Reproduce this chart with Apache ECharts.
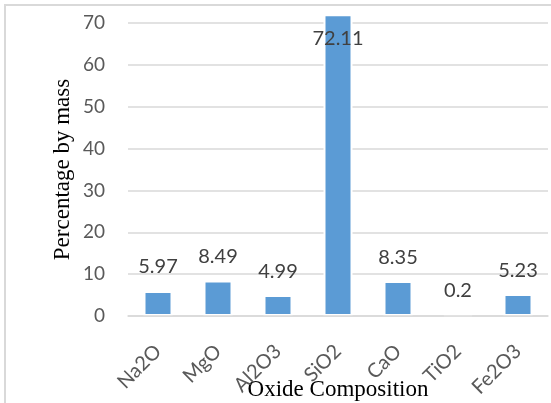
<!DOCTYPE html>
<html>
<head>
<meta charset="utf-8">
<script src="https://cdn.jsdelivr.net/npm/echarts@6/dist/echarts.min.js"></script>
<style>
  html, body { margin: 0; padding: 0; background: #fff; }
  #chart { width: 551px; height: 403px; }
</style>
</head>
<body>
<div id="chart"></div>
<script>
// Oxide composition of the sample, percentage by mass
const oxides = ['Na2O', 'MgO', 'Al2O3', 'SiO2', 'CaO', 'TiO2', 'Fe2O3'];
const massPercent = [5.97, 8.49, 4.99, 72.11, 8.35, 0.2, 5.23];
const yTicks = { min: 0, max: 70, interval: 10 };

const chart = echarts.init(document.getElementById('chart'), null, { renderer: 'canvas' });

const barData = massPercent.map(function (v) {
  const item = { value: v };
  // the tallest bar reaches past the top gridline, so its label sits inside
  if (v > yTicks.max) {
    item.label = { position: 'insideTop', distance: 14 };
  }
  return item;
});

chart.setOption({
  animation: false,
  backgroundColor: '#fff',
  grid: {
    left: 128, right: 3, top: 23, bottom: 87,
    containLabel: false, outerBoundsMode: 'none'
  },
  graphic: [{
    type: 'rect',
    shape: { x: 5, y: 5, width: 600, height: 450 },
    style: { fill: 'none', stroke: '#D9D9D9', lineWidth: 2 },
    silent: true, z: 100
  }],
  xAxis: {
    type: 'category',
    data: oxides,
    z: 3,
    name: 'Oxide Composition',
    nameLocation: 'middle',
    nameGap: 62,
    nameMoveOverlap: false,
    nameTextStyle: { fontFamily: 'Liberation Serif', fontSize: 23, color: '#000' },
    axisLine: { lineStyle: { color: '#D9D9D9', width: 1.5 } },
    axisTick: { length: 7, lineStyle: { color: '#D9D9D9', width: 1.5 } },
    axisLabel: {
      rotate: 45, interval: 0, margin: 32,
      fontFamily: 'Lato', fontSize: 20, color: '#595959'
    }
  },
  yAxis: {
    type: 'value',
    min: yTicks.min, max: yTicks.max, interval: yTicks.interval,
    name: 'Percentage by mass',
    nameLocation: 'middle',
    nameGap: 54,
    nameMoveOverlap: false,
    nameTextStyle: { fontFamily: 'Liberation Serif', fontSize: 23, color: '#000' },
    axisLine: { show: false },
    axisTick: { show: false },
    axisLabel: { margin: 23, fontFamily: 'Lato', fontSize: 19, color: '#595959' },
    splitLine: { lineStyle: { color: '#D9D9D9', width: 1.5 } }
  },
  series: [{
    type: 'bar',
    data: barData,
    barWidth: 29,
    clip: false,
    itemStyle: { color: '#5B9BD5', borderColor: '#fff', borderWidth: 2 },
    label: {
      show: true, position: 'top', distance: 14,
      fontFamily: 'Lato', fontSize: 20, color: '#404040'
    }
  }]
});
</script>
</body>
</html>
